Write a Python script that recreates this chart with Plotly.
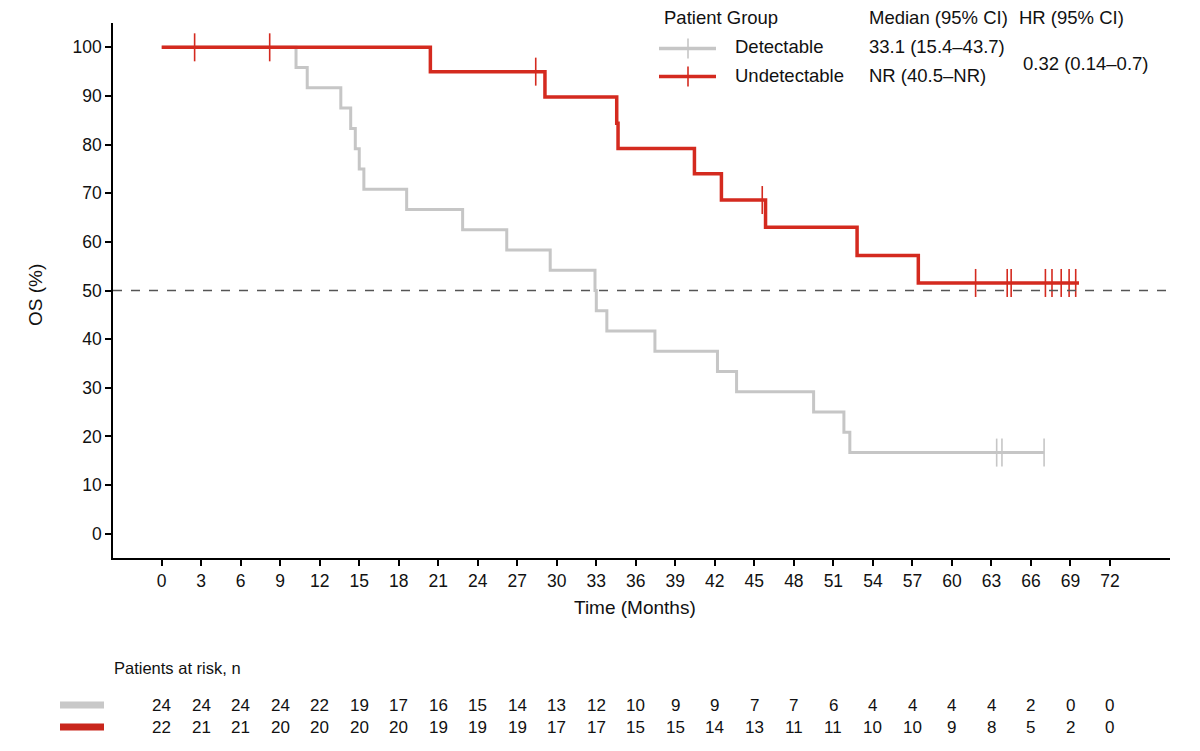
import plotly.graph_objects as go

# x axis ticks (months)
x_ticks = list(range(0, 73, 3))
y_ticks = list(range(0, 101, 10))

# Detectable group: event times (months) and survival after each event (%)
det_times = [10.2, 11.05, 13.6, 14.35, 14.7, 15.0, 15.35, 18.6, 22.85, 26.2,
             29.5, 32.9, 33.0, 33.8, 37.45, 42.2, 43.65, 49.5, 51.8, 52.25]
det_surv = [95.83, 91.67, 87.5, 83.33, 79.17, 75.0, 70.83, 66.67, 62.5, 58.33,
            54.17, 50.0, 45.83, 41.67, 37.5, 33.33, 29.17, 25.0, 20.83, 16.67]
det_censor = [63.4, 63.8, 67.0]
det_end = 67.0

# Undetectable group
und_times = [20.4, 29.1, 34.55, 34.65, 40.45, 42.5, 45.85, 52.8, 57.45]
und_surv = [95.0, 89.8, 84.4, 79.2, 74.0, 68.6, 63.0, 57.2, 51.55]
und_censor = [2.5, 8.2, 28.4, 45.6, 61.8, 64.2, 64.5, 67.1, 67.6, 68.3, 68.9, 69.4]
und_end = 69.65

# patients at risk at each x tick
det_risk = [24, 24, 24, 24, 22, 19, 17, 16, 15, 14, 13, 12, 10, 9, 9, 7, 7, 6, 4, 4, 4, 4, 2, 0, 0]
und_risk = [22, 21, 21, 20, 20, 20, 20, 19, 19, 19, 17, 17, 15, 15, 14, 13, 11, 11, 10, 10, 9, 8, 5, 2, 0]

GRAY = '#c6c6c6'
RED = '#d42a1f'
FONT = 'Arial, Liberation Sans, Helvetica, sans-serif'
TXT = '#111111'

OFF = 8  # page body margin
# plot area in page pixels
L, R, T, B = 113, 1170, 23, 558
W, H = R - L, B - T


def px(x):
    return (x - L) / W


def py(y):
    return (B - y) / H


def surv_at(t, times, surv):
    s = 100.0
    for ti, si in zip(times, surv):
        if ti <= t:
            s = si
    return s


def step_trace(times, surv, end, color, width):
    xs = [0] + times + [end]
    ys = [100] + surv + [surv[-1]]
    return go.Scatter(x=xs, y=ys, mode='lines', line=dict(shape='hv', color=color, width=width),
                      hoverinfo='skip', showlegend=False)


def censor_trace(cens, times, surv, color):
    return go.Scatter(x=cens, y=[surv_at(c, times, surv) for c in cens], mode='markers',
                      marker=dict(symbol='line-ns', size=20, line=dict(color=color, width=1.6)),
                      hoverinfo='skip', showlegend=False)


fig = go.Figure()
fig.add_trace(step_trace(det_times, det_surv, det_end, GRAY, 3))
fig.add_trace(censor_trace(det_censor, det_times, det_surv, GRAY))
fig.add_trace(step_trace(und_times, und_surv, und_end, RED, 3.5))
fig.add_trace(censor_trace(und_censor, und_times, und_surv, RED))

# median reference line
fig.add_shape(type='line', xref='paper', yref='y', x0=0, x1=1, y0=50, y1=50,
              line=dict(color='#555555', width=1.6, dash='dash'))

ann = []
# legend block
ann.append(dict(text='Patient Group', x=px(662), y=py(17), xanchor='left'))
ann.append(dict(text='Median (95% CI)', x=px(867), y=py(17), xanchor='left'))
ann.append(dict(text='HR (95% CI)', x=px(1017), y=py(17), xanchor='left'))
ann.append(dict(text='Detectable', x=px(733), y=py(47), xanchor='left'))
ann.append(dict(text='Undetectable', x=px(733), y=py(76), xanchor='left'))
ann.append(dict(text='33.1 (15.4\u201343.7)', x=px(867), y=py(47), xanchor='left'))
ann.append(dict(text='NR (40.5\u2013NR)', x=px(867), y=py(76), xanchor='left'))
ann.append(dict(text='0.32 (0.14\u20130.7)', x=px(1021), y=py(63), xanchor='left'))
for a in ann:
    a.update(xref='paper', yref='paper', yanchor='middle', showarrow=False,
             font=dict(family=FONT, size=18.5, color=TXT))

for color, yy in [(GRAY, 48.5), (RED, 76.5)]:
    fig.add_shape(type='line', xref='paper', yref='paper', x0=px(659), x1=px(716), y0=py(yy), y1=py(yy),
                  line=dict(color=color, width=3.5))
    fig.add_shape(type='line', xref='paper', yref='paper', x0=px(688), x1=px(688), y0=py(yy - 10), y1=py(yy + 10),
                  line=dict(color=color, width=1.6))

# axis titles
ann.append(dict(text='Time (Months)', x=px(635), y=py(607), xref='paper', yref='paper', showarrow=False,
                yanchor='middle', font=dict(family=FONT, size=19, color=TXT)))
ann.append(dict(text='OS (%)', x=px(35), y=py(295), xref='paper', yref='paper', showarrow=False, textangle=-90,
                xanchor='center', yanchor='middle', font=dict(family=FONT, size=19, color=TXT)))

# risk table
ann.append(dict(text='Patients at risk, n', x=px(112), y=py(668), xref='paper', yref='paper', showarrow=False,
                xanchor='left', yanchor='middle', font=dict(family=FONT, size=16.5, color=TXT)))
for risk, yy in [(det_risk, 705), (und_risk, 727)]:
    for t, n in zip(x_ticks, risk):
        ann.append(dict(text=str(n), x=t, xref='x', y=py(yy), yref='paper', showarrow=False,
                        yanchor='middle', font=dict(family=FONT, size=17, color=TXT)))
for color, yy in [('#c8c8c8', 705), ('#c9261c', 727)]:
    fig.add_shape(type='line', xref='paper', yref='paper', x0=px(60), x1=px(104), y0=py(yy), y1=py(yy),
                  line=dict(color=color, width=7))

x0_px = 161.7
ppm = 13.17
fig.update_layout(
    width=1200 - 2 * OFF, height=751 - OFF,
    margin=dict(l=L - OFF, r=1200 - OFF - R, t=T - OFF, b=751 - B),
    paper_bgcolor='white', plot_bgcolor='white',
    annotations=ann,
    xaxis=dict(range=[(L - x0_px) / ppm, (R - x0_px) / ppm], tickvals=x_ticks, showgrid=False, zeroline=False,
               showline=True, linecolor='black', linewidth=1.5, ticks='outside', ticklen=6, tickwidth=1.5,
               tickcolor='black', tickfont=dict(family=FONT, size=17.5, color=TXT)),
    yaxis=dict(range=[-5, 105], tickvals=y_ticks, showgrid=False, zeroline=False,
               showline=True, linecolor='black', linewidth=1.5, ticks='outside', ticklen=6, tickwidth=1.5,
               tickcolor='black', tickfont=dict(family=FONT, size=17.5, color=TXT)),
)

fig.write_html('out.html')
